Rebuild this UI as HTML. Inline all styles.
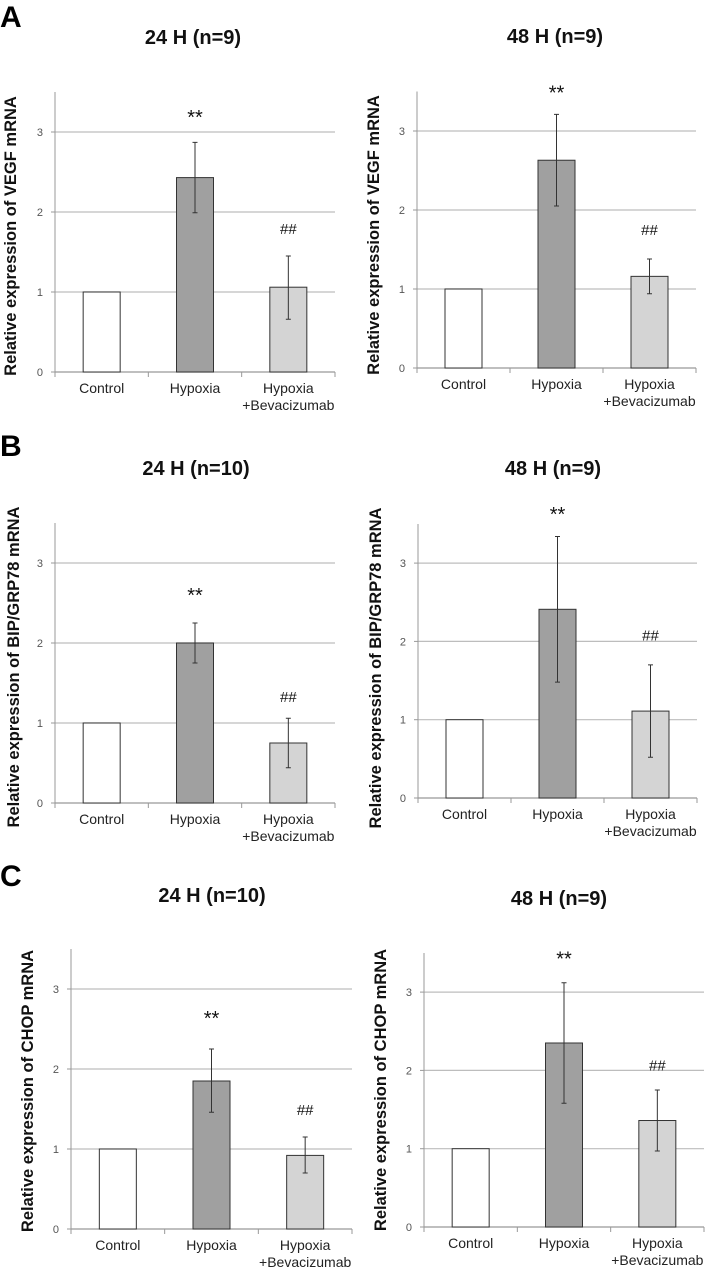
<!DOCTYPE html>
<html><head><meta charset="utf-8">
<style>
html,body{margin:0;padding:0;background:#fff;}
svg{display:block;font-family:"Liberation Sans",Arial,sans-serif;}
</style></head>
<body>
<svg id="fig" width="705" height="1268" viewBox="0 0 705 1268" xmlns="http://www.w3.org/2000/svg">
<text x="0" y="27" font-size="30" font-weight="bold">A</text>
<text x="0" y="456" font-size="30" font-weight="bold">B</text>
<text x="0" y="886" font-size="30" font-weight="bold">C</text>
</svg>
<script>
const categories = ["Control", "Hypoxia", "Hypoxia|+Bevacizumab"];
const yTicks = [0, 1, 2, 3];
const titles = ["24 H (n=9)", "48 H (n=9)", "24 H (n=10)", "48 H (n=9)", "24 H (n=10)", "48 H (n=9)"];
const yLabels = ["Relative expression of VEGF mRNA", "Relative expression of  VEGF mRNA",
  "Relative expression of BIP/GRP78 mRNA", "Relative expression of BIP/GRP78 mRNA",
  "Relative expression of CHOP mRNA", "Relative expression of CHOP mRNA"];
const meansA24 = [1, 2.43, 1.06];
const errLoA24 = [1, 1.99, 0.66];
const errHiA24 = [1, 2.87, 1.45];
const meansA48 = [1, 2.63, 1.16];
const errLoA48 = [1, 2.05, 0.94];
const errHiA48 = [1, 3.21, 1.38];
const meansB24 = [1, 2.0, 0.75];
const errLoB24 = [1, 1.75, 0.44];
const errHiB24 = [1, 2.25, 1.06];
const meansB48 = [1, 2.41, 1.11];
const errLoB48 = [1, 1.48, 0.52];
const errHiB48 = [1, 3.34, 1.70];
const meansC24 = [1, 1.85, 0.92];
const errLoC24 = [1, 1.46, 0.70];
const errHiC24 = [1, 2.25, 1.15];
const meansC48 = [1, 2.35, 1.36];
const errLoC48 = [1, 1.58, 0.97];
const errHiC48 = [1, 3.12, 1.75];
const markLevels = [[3.19, 1.81], [3.49, 1.77], [2.6, 1.35], [3.63, 2.1], [2.64, 1.51], [3.43, 2.09]];
const yMax = 3.5;

// layout (geometry, not data)
const layouts = [
  {x0:55, x1:335, y0:372, ppu:80, tx:193, ty:44, lx:11, ly:236},
  {x0:417, x1:696, y0:368, ppu:79, tx:555, ty:43, lx:374, ly:235},
  {x0:55, x1:335, y0:803, ppu:80, tx:196, ty:475, lx:14, ly:667},
  {x0:418, x1:697, y0:798, ppu:78.3, tx:553, ty:475, lx:376, ly:668},
  {x0:71, x1:352, y0:1229, ppu:80, tx:212, ty:902, lx:28, ly:1091},
  {x0:424, x1:704, y0:1227, ppu:78.3, tx:559, ty:905, lx:381, ly:1090}
];
const series = [
  [meansA24, errLoA24, errHiA24], [meansA48, errLoA48, errHiA48],
  [meansB24, errLoB24, errHiB24], [meansB48, errLoB48, errHiB48],
  [meansC24, errLoC24, errHiC24], [meansC48, errLoC48, errHiC48]
];
const fills = ["#ffffff", "#a0a0a0", "#d4d4d4"];
const NS = "http://www.w3.org/2000/svg";
const svg = document.getElementById("fig");
function mk(tag, attrs, parent) {
  const e = document.createElementNS(NS, tag);
  for (const k in attrs) e.setAttribute(k, attrs[k]);
  (parent || svg).appendChild(e);
  return e;
}
layouts.forEach((L, p) => {
  const g = mk("g", {});
  
  
  const yScale = v => L.y0 - v * L.ppu;
  const bw = (L.x1 - L.x0) / categories.length;
  const xC = i => L.x0 + bw * (i + 0.5);
  const t = mk("text", {x: L.tx, y: L.ty, "font-size": 20, "font-weight": "bold", "text-anchor": "middle", fill: "#111"}, g);
  t.textContent = titles[p];
  
  
  const yl = mk("text", {x: 0, y: 0, "font-size": 16.5, "font-weight": "bold", "text-anchor": "middle", "dominant-baseline": "central", fill: "#111", transform: `translate(${L.lx},${L.ly}) rotate(-90)`}, g);
  yl.textContent = yLabels[p];
  
  
  yTicks.forEach(v => {
    const y = yScale(v);
    if (v > 0) {
      const gl = mk("line", {x1: L.x0, x2: L.x1, y1: y, y2: y, stroke: "#bdbdbd", "stroke-width": 1.2}, g);
      
      
    }
    mk("line", {x1: L.x0 - 4, x2: L.x0, y1: y, y2: y, stroke: "#999"}, g);
    const tl = mk("text", {x: L.x0 - 12, y: y + 4, "font-size": 11, "text-anchor": "end", fill: "#555"}, g);
    tl.textContent = v;
    
    
  });
  const ax = mk("line", {x1: L.x0, x2: L.x0, y1: yScale(yMax), y2: L.y0, stroke: "#999", "stroke-width": 1}, g);
  
  
  const bx = mk("line", {x1: L.x0, x2: L.x1, y1: L.y0, y2: L.y0, stroke: "#999", "stroke-width": 1.2}, g);
  
  
  for (let i = 0; i <= categories.length; i++) {
    mk("line", {x1: L.x0 + bw * i, x2: L.x0 + bw * i, y1: L.y0, y2: L.y0 + 5, stroke: "#999"}, g);
  }
  const [m, lo, hi] = series[p];
  categories.forEach((c, i) => {
    const w = 37;
    const bar = mk("rect", {x: xC(i) - w / 2, y: yScale(m[i]), width: w, height: m[i] * L.ppu, fill: fills[i], stroke: "#333", "stroke-width": 1}, g);
    
    
    if (i > 0) {
      const eb = mk("path", {d: `M${xC(i)},${yScale(hi[i])}V${yScale(lo[i])}M${xC(i) - 2.5},${yScale(hi[i])}h5M${xC(i) - 2.5},${yScale(lo[i])}h5`, stroke: "#333", "stroke-width": 1, fill: "none"}, g);
      
      
      const mt = mk("text", {x: xC(i), y: yScale(markLevels[p][i - 1]) + 7, "font-size": i === 1 ? 20 : 15, "text-anchor": "middle", fill: "#111"}, g);
      mt.textContent = i === 1 ? "**" : "##";
      
      
    }
    const parts = c.split("|");
    parts.forEach((s, k) => {
      const cl = mk("text", {x: xC(i), y: L.y0 + 21 + k * 17, "font-size": 14, "text-anchor": "middle", fill: "#222"}, g);
      cl.textContent = s;
      
      
    });
  });
});
</script>
</body></html>
